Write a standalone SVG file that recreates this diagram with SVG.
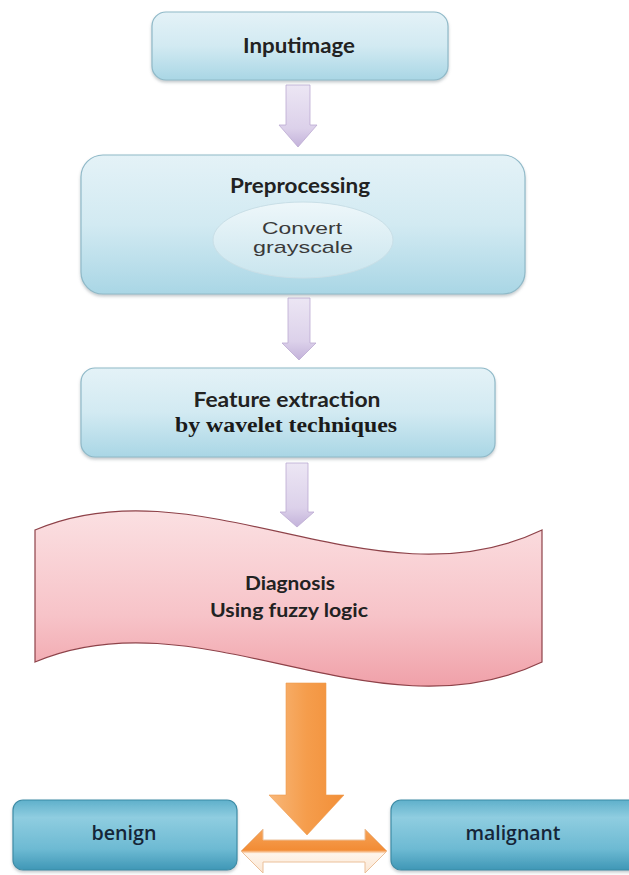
<svg xmlns="http://www.w3.org/2000/svg" width="629" height="875" viewBox="0 0 629 875">
<style>
.lbl{font-family:Lato,"Open Sans","Liberation Sans",sans-serif;font-weight:bold;fill:#222;text-anchor:middle}
.ser{font-family:"Liberation Serif","DejaVu Serif",serif;font-weight:bold;fill:#1a1a1a;text-anchor:middle}
.ell{font-family:"Liberation Sans",Arial,sans-serif;fill:#3a3a3a;text-anchor:middle}
.lb2{font-family:"Open Sans",Lato,"Liberation Sans",sans-serif;font-weight:600;fill:#152538;text-anchor:middle}
.topbox{fill:url(#gBlueLight);stroke:#8fb9c8;stroke-width:1.2;filter:url(#sh)}
.botbox{fill:url(#gBlueDark);stroke:#3d8ca6;stroke-width:1.2;filter:url(#sh)}
.parr{fill:url(#gPurple);stroke:#bba9d2;stroke-width:0.8}
</style>
<defs>
<linearGradient id="gBlueLight" x1="0" y1="0" x2="0" y2="1">
<stop offset="0" stop-color="#e4f2f7"/>
<stop offset="0.5" stop-color="#d2eaf2"/>
<stop offset="1" stop-color="#a9d6e5"/>
</linearGradient>
<linearGradient id="gBlueDark" x1="0" y1="0" x2="0" y2="1">
<stop offset="0" stop-color="#5fb0cb"/>
<stop offset="0.25" stop-color="#8fcde0"/>
<stop offset="0.7" stop-color="#6dbad3"/>
<stop offset="1" stop-color="#3f97b6"/>
</linearGradient>
<linearGradient id="gEll" x1="0" y1="0" x2="0" y2="1">
<stop offset="0" stop-color="#eef7fa"/>
<stop offset="1" stop-color="#c9e5ee"/>
</linearGradient>
<linearGradient id="gPink" x1="0" y1="0" x2="0" y2="1">
<stop offset="0" stop-color="#fbe0e2"/>
<stop offset="0.6" stop-color="#f7c3c8"/>
<stop offset="1" stop-color="#f0a1a9"/>
</linearGradient>
<linearGradient id="gPurple" x1="0" y1="0" x2="0" y2="1">
<stop offset="0" stop-color="#ece6f4"/>
<stop offset="0.7" stop-color="#dcd1ea"/>
<stop offset="1" stop-color="#c3b2da"/>
</linearGradient>
<linearGradient id="gOrange" x1="0" y1="0" x2="1" y2="0">
<stop offset="0" stop-color="#f8b779"/>
<stop offset="0.5" stop-color="#f59d4c"/>
<stop offset="1" stop-color="#f28f38"/>
</linearGradient>
<linearGradient id="gOrange2" x1="0" y1="0" x2="0" y2="1">
<stop offset="0" stop-color="#f6a358"/>
<stop offset="0.48" stop-color="#f28c35"/>
<stop offset="0.56" stop-color="#fef5ec"/>
<stop offset="1" stop-color="#fbe6d2"/>
</linearGradient>
<filter id="sh" x="-5%" y="-10%" width="110%" height="125%">
<feDropShadow dx="0" dy="2" stdDeviation="1.5" flood-color="#7a8a90" flood-opacity="0.45"/>
</filter>
</defs>
<rect width="629" height="875" fill="#ffffff"/>

<g id="connectors">
<path class="parr" d="M286,85 H310 V125 H317 L298,147 L279,125 H286 Z"/>
<path class="parr" d="M288,298 H310 V343 H316 L299,360 L282,343 H288 Z"/>
<path class="parr" d="M286,463 H308 V512 H314 L297,527 L280,512 H286 Z"/>
<path d="M241,851 L263,829 V840 H365 V829 L387,851 L365,873 V862 H263 V873 Z" fill="url(#gOrange2)" stroke="#ebc09a" stroke-width="1"/>
<path d="M286,683 H326 V795 H344 L307,835 L269,795 H286 Z" fill="url(#gOrange)" stroke="#ee9a4e" stroke-width="0.6"/>
</g>

<g id="inputimage">
<rect class="topbox" x="152" y="12" width="296" height="68" rx="14"/>
<text class="lbl" x="299" y="53" font-size="20" textLength="112" lengthAdjust="spacingAndGlyphs">Inputimage</text>
</g>

<g id="preprocessing">
<rect class="topbox" x="81" y="155" width="444" height="139" rx="22"/>
<text class="lbl" x="300" y="193" font-size="20" textLength="140" lengthAdjust="spacingAndGlyphs">Preprocessing</text>
<ellipse cx="303" cy="240" rx="90" ry="38" fill="url(#gEll)" stroke="#c9dfe7" stroke-width="1"/>
<text class="ell" x="302" y="234" font-size="17" textLength="80" lengthAdjust="spacingAndGlyphs">Convert</text>
<text class="ell" x="303" y="253" font-size="17" textLength="100" lengthAdjust="spacingAndGlyphs">grayscale</text>
</g>

<g id="feature">
<rect class="topbox" x="81" y="368" width="414" height="89" rx="14"/>
<text class="lbl" x="287" y="407" font-size="21" textLength="187" lengthAdjust="spacingAndGlyphs">Feature extraction</text>
<text class="ser" x="286" y="432" font-size="22" textLength="222" lengthAdjust="spacingAndGlyphs">by wavelet techniques</text>
</g>

<g id="diagnosis">
<path d="M35,530 C200,460 375,610 542,530 V662 C375,742 200,592 35,662 Z" fill="url(#gPink)" stroke="#8e4249" stroke-width="1.2"/>
<text class="lbl" x="290" y="590" font-size="18.5" textLength="90" lengthAdjust="spacingAndGlyphs">Diagnosis</text>
<text class="lbl" x="289" y="617" font-size="18.5" textLength="158" lengthAdjust="spacingAndGlyphs">Using fuzzy logic</text>
</g>

<g id="benign">
<rect class="botbox" x="13" y="800" width="224" height="70" rx="10"/>
<text class="lb2" x="124" y="840" font-size="19" textLength="65" lengthAdjust="spacingAndGlyphs">benign</text>
</g>

<g id="malignant">
<rect class="botbox" x="391" y="800" width="250" height="70" rx="10"/>
<text class="lb2" x="513" y="840" font-size="19" textLength="95" lengthAdjust="spacingAndGlyphs">malignant</text>
</g>
</svg>
